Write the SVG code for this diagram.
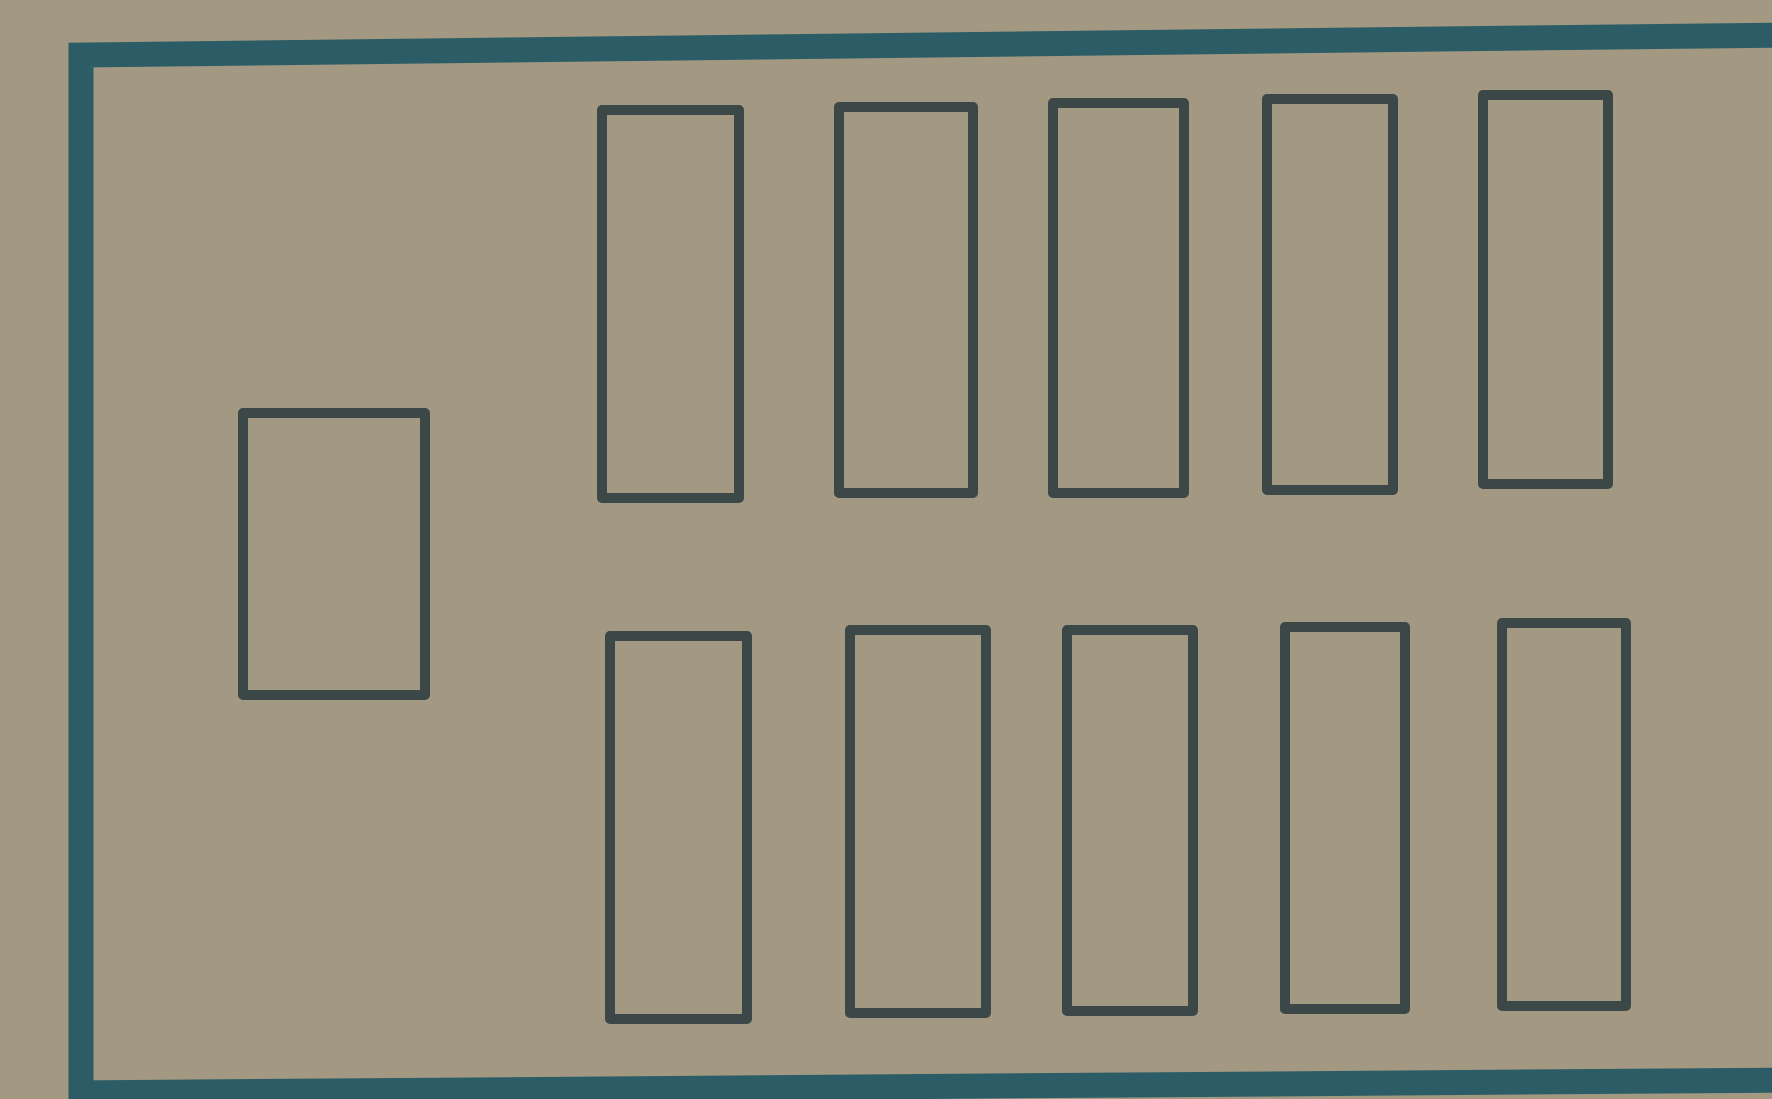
<svg xmlns="http://www.w3.org/2000/svg" width="1772" height="1099" viewBox="0 0 1772 1099">
<style>
.bg{fill:#a39982}
.frame{fill:none;stroke:#2c5d66;stroke-width:25;stroke-linejoin:miter}
.halo{fill:none;stroke:#b9b8a6;stroke-width:18;opacity:0.55}
.box{fill:none;stroke:#3b4847;stroke-width:10;stroke-linejoin:round}
</style>
<rect class="bg" x="0" y="0" width="1772" height="1099"/>
<g id="frame">
<path class="halo" d="M81,1110 L81,56 L1790,36 M81,1092 L1790,1078"/>
<path class="frame" d="M81,1110 L81,55 L1790,35 M70,1093 L1790,1080"/>
</g>
<g id="box-small"><rect class="box" x="243" y="413" width="182" height="282"/></g>
<g id="box-t1"><rect class="box" x="602" y="110" width="137" height="388"/></g>
<g id="box-t2"><rect class="box" x="839" y="107" width="134" height="386"/></g>
<g id="box-t3"><rect class="box" x="1053" y="103" width="131" height="390"/></g>
<g id="box-t4"><rect class="box" x="1267" y="99" width="126" height="391"/></g>
<g id="box-t5"><rect class="box" x="1483" y="95" width="125" height="389"/></g>
<g id="box-b1"><rect class="box" x="610" y="636" width="137" height="383"/></g>
<g id="box-b2"><rect class="box" x="850" y="630" width="136" height="383"/></g>
<g id="box-b3"><rect class="box" x="1067" y="630" width="126" height="381"/></g>
<g id="box-b4"><rect class="box" x="1285" y="627" width="120" height="382"/></g>
<g id="box-b5"><rect class="box" x="1502" y="623" width="124" height="383"/></g>
<g id="connectors"></g>
</svg>
